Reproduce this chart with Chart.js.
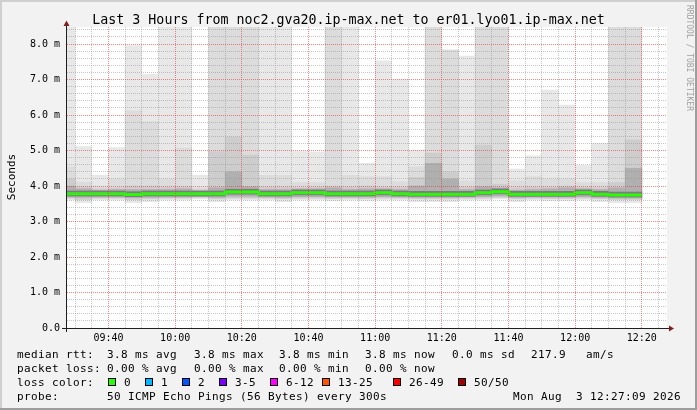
<!DOCTYPE html>
<html>
<head>
<meta charset="utf-8">
<script src="https://cdn.jsdelivr.net/npm/chart.js@4/dist/chart.umd.min.js"></script>
<style>
  html, body { margin: 0; padding: 0; background: #f2f2f2; }
  canvas { display: block; }
</style>
</head>
<body>
<canvas id="smoke" width="697" height="410"></canvas>
<script>
// start of each 5 minute interval (first one is clipped by the window)
const intervals = ['09:25','09:30','09:35','09:40','09:45','09:50','09:55','10:00','10:05','10:10',
  '10:15','10:20','10:25','10:30','10:35','10:40','10:45','10:50','10:55','11:00',
  '11:05','11:10','11:15','11:20','11:25','11:30','11:35','11:40','11:45','11:50',
  '11:55','12:00','12:05','12:10','12:15'];
const intervalEnd = '12:20';

// rtt in ms (8.9 = above the top of the graph)
const medians   = [3.78,3.78,3.78,3.78,3.76,3.78,3.78,3.78,3.78,3.78,3.83,3.83,3.78,3.78,3.81,3.81,3.78,3.78,3.78,3.81,3.78,3.77,3.77,3.77,3.77,3.81,3.84,3.77,3.77,3.77,3.77,3.81,3.77,3.75,3.75];
const smokeMax  = [8.9,5.11,4.31,5.08,7.96,7.15,8.9,8.9,4.31,8.9,8.9,8.9,8.9,8.9,4.98,4.96,8.9,8.9,4.64,7.53,7.00,5.01,8.9,7.83,7.66,8.9,8.9,4.48,4.85,6.70,6.28,4.58,5.20,8.9,8.9];
const smokeUpper= [4.54,4.11,4.00,4.20,6.12,5.81,4.20,5.07,3.95,8.9,8.9,8.9,4.30,4.30,4.10,4.10,8.9,4.30,4.26,4.26,4.12,4.54,8.9,7.83,4.15,8.9,8.9,4.15,4.26,4.20,4.20,4.10,4.10,8.9,8.9];
const smokeInner= [4.20,3.98,3.92,3.95,4.00,4.00,3.97,3.98,3.90,4.97,5.38,4.87,3.97,3.97,3.95,3.97,4.00,3.97,4.00,3.97,3.96,4.24,4.93,4.40,3.97,5.15,4.05,3.95,3.97,3.97,4.00,3.97,3.95,4.10,5.30];
const coreHigh  = [4.00,3.92,3.88,3.90,3.90,3.90,3.90,3.92,3.86,3.95,4.40,3.98,3.90,3.90,3.92,3.92,3.95,3.90,3.92,3.92,3.90,4.00,4.64,4.20,3.90,3.98,3.95,3.88,3.90,3.92,3.95,3.92,3.90,3.95,4.50];
const darkHigh  = [3.86,3.86,3.86,3.86,3.84,3.86,3.86,3.86,3.86,3.86,3.91,3.91,3.86,3.86,3.89,3.89,3.86,3.86,3.86,3.89,3.86,3.85,3.85,3.85,3.85,3.89,3.92,3.85,3.85,3.85,3.85,3.89,3.85,3.83,3.83];
const darkLow   = [3.72,3.72,3.72,3.72,3.70,3.72,3.72,3.72,3.72,3.72,3.77,3.77,3.72,3.72,3.75,3.75,3.72,3.72,3.72,3.75,3.72,3.71,3.71,3.71,3.71,3.75,3.78,3.71,3.71,3.71,3.71,3.75,3.71,3.69,3.69];
const coreLow   = [3.69,3.68,3.69,3.69,3.67,3.68,3.69,3.69,3.70,3.68,3.71,3.71,3.69,3.68,3.70,3.70,3.69,3.69,3.69,3.70,3.69,3.68,3.68,3.68,3.69,3.70,3.72,3.68,3.69,3.69,3.69,3.70,3.68,3.66,3.66];
const smokeLow  = [3.66,3.62,3.66,3.66,3.62,3.64,3.66,3.66,3.68,3.64,3.66,3.66,3.66,3.64,3.66,3.66,3.65,3.66,3.65,3.66,3.66,3.64,3.64,3.64,3.66,3.66,3.68,3.64,3.66,3.65,3.65,3.66,3.64,3.62,3.62];
const smokeMin  = [3.61,3.53,3.61,3.61,3.53,3.56,3.61,3.61,3.64,3.56,3.61,3.61,3.61,3.56,3.61,3.61,3.59,3.61,3.59,3.61,3.61,3.56,3.56,3.56,3.61,3.61,3.64,3.56,3.61,3.59,3.59,3.61,3.56,3.53,3.53];

const xTickLabels = ['09:40','10:00','10:20','10:40','11:00','11:20','11:40','12:00','12:20'];
const yTickLabels = ['0.0','1.0 m','2.0 m','3.0 m','4.0 m','5.0 m','6.0 m','7.0 m','8.0 m'];

const lossLabels = ['0','1','2','3-5','6-12','13-25','26-49','50/50'];
const lossColors = ['#26ff00','#00b8ff','#0059ff','#7e00ff','#ff00ff','#ff5500','#ff0000','#a10000'];

const windowStart = 567.55;   // 09:27:33
const windowEnd = 747.55;     // 12:27:33

const toMin = s => { const p = s.split(':').map(Number); return p[0] * 60 + p[1]; };
const hhmm = v => String(Math.floor(v / 60)).padStart(2, '0') + ':' + String(v % 60).padStart(2, '0');

function band(lo, hi, color) {
  return {
    type: 'bar',
    data: intervals.map((t, i) => ({ x: toMin(t) + 2.5, y: [lo[i], hi[i]] })),
    backgroundColor: color,
    borderWidth: 0,
    grouped: false,
    barPercentage: 1,
    categoryPercentage: 1
  };
}

const medianLine = intervals.map((t, i) => ({ x: toMin(t), y: medians[i] }));
medianLine.push({ x: toMin(intervalEnd), y: medians[medians.length - 1] });

// rrdtool style grid colours
const MINOR = 'rgba(143,143,143,0.5)';
const MAJOR = 'rgba(230,60,60,0.6)';
const mono = '"DejaVu Sans Mono", monospace';

// rrdtool paints its grid over the graph, so it is drawn after the datasets
const rrdGrid = {
  id: 'rrdGrid',
  afterDatasetsDraw(chart) {
    const ctx = chart.ctx, a = chart.chartArea, sx = chart.scales.x, sy = chart.scales.y;
    const hLine = v => { const py = Math.floor(sy.getPixelForValue(v)) + 0.5; ctx.beginPath(); ctx.moveTo(a.left, py); ctx.lineTo(a.right, py); ctx.stroke(); };
    const vLine = v => { const px = Math.floor(sx.getPixelForValue(v)) + 0.5; ctx.beginPath(); ctx.moveTo(px, a.top); ctx.lineTo(px, a.bottom); ctx.stroke(); };
    ctx.save();
    ctx.lineWidth = 1;
    ctx.setLineDash([1, 1]);
    // minor lines first
    ctx.strokeStyle = MINOR;
    for (let i = 1; i <= 42; i++) if (i % 5 !== 0) hLine(i / 5);
    for (let v = 570; v <= 745; v += 5) if (!xTickLabels.includes(hhmm(v))) vLine(v);
    // then the major ones on top
    ctx.strokeStyle = MAJOR;
    for (let i = 1; i <= 8; i++) hLine(i);
    xTickLabels.forEach(s => vLine(toMin(s)));
    ctx.restore();
  }
};

const rrdLook = {
  id: 'rrdLook',
  beforeDraw(chart) {
    const ctx = chart.ctx, a = chart.chartArea;
    ctx.save();
    ctx.fillStyle = '#f2f2f2';
    ctx.fillRect(0, 0, 697, 410);
    ctx.fillStyle = '#cfcfcf';
    ctx.fillRect(0, 0, 697, 2);
    ctx.fillRect(0, 0, 2, 410);
    ctx.fillStyle = '#9e9e9e';
    ctx.fillRect(0, 408, 697, 2);
    ctx.fillRect(695, 0, 2, 410);
    ctx.fillStyle = '#ffffff';
    ctx.fillRect(a.left, a.top, a.right - a.left, a.bottom - a.top);
    ctx.restore();
  },
  afterDraw(chart) {
    const ctx = chart.ctx, a = chart.chartArea;
    ctx.save();
    // axes
    ctx.strokeStyle = '#1f1f1f';
    ctx.lineWidth = 1;
    ctx.beginPath();
    ctx.moveTo(62, a.bottom + 0.5); ctx.lineTo(670, a.bottom + 0.5);
    ctx.moveTo(a.left - 0.5, a.bottom + 4); ctx.lineTo(a.left - 0.5, 23);
    ctx.stroke();
    ctx.fillStyle = '#801f1f';
    ctx.beginPath();
    ctx.moveTo(669, a.bottom - 2.5); ctx.lineTo(674, a.bottom + 0.5); ctx.lineTo(669, a.bottom + 3.5);
    ctx.closePath(); ctx.fill();
    ctx.beginPath();
    ctx.moveTo(a.left - 3.5, 26); ctx.lineTo(a.left - 0.5, 20.5); ctx.lineTo(a.left + 2.5, 26);
    ctx.closePath(); ctx.fill();

    // title
    ctx.fillStyle = '#000';
    ctx.textBaseline = 'alphabetic';
    ctx.textAlign = 'center';
    ctx.font = '13.3px ' + mono;
    ctx.fillText('Last 3 Hours from noc2.gva20.ip-max.net to er01.lyo01.ip-max.net', 348.5, 24);

    // y axis title
    ctx.save();
    ctx.translate(15, 177);
    ctx.rotate(-Math.PI / 2);
    ctx.font = '11px ' + mono;
    ctx.fillText('Seconds', 0, 0);
    ctx.restore();

    // watermark
    ctx.save();
    ctx.translate(687, 5);
    ctx.rotate(Math.PI / 2);
    ctx.textAlign = 'left';
    ctx.fillStyle = '#a0a0a0';
    ctx.font = '8px ' + mono;
    ctx.fillText('RRDTOOL / TOBI OETIKER', 0, 0);
    ctx.restore();

    // legend
    ctx.textAlign = 'left';
    ctx.font = '11px ' + mono;
    if ('letterSpacing' in ctx) ctx.letterSpacing = '0.38px';
    const put = (s, x, y) => ctx.fillText(s, x, y);
    put('median rtt:', 17, 358);
    put('3.8 ms avg', 107, 358);
    put('3.8 ms max', 194, 358);
    put('3.8 ms min', 279, 358);
    put('3.8 ms now', 365, 358);
    put('0.0 ms sd', 452, 358);
    put('217.9', 531, 358);
    put('am/s', 586, 358);
    put('packet loss:', 17, 372);
    put('0.00 % avg', 107, 372);
    put('0.00 % max', 194, 372);
    put('0.00 % min', 279, 372);
    put('0.00 % now', 365, 372);
    put('loss color:', 17, 386);
    const boxX = [108, 145, 182, 219, 270, 322, 393, 458];
    lossLabels.forEach((lab, i) => {
      ctx.fillStyle = lossColors[i];
      ctx.fillRect(boxX[i], 378, 8, 8);
      ctx.strokeStyle = '#000';
      ctx.strokeRect(boxX[i] + 0.5, 378.5, 7, 7);
      ctx.fillStyle = '#000';
      put(lab, boxX[i] + 16, 386);
    });
    put('probe:', 17, 400);
    put('50 ICMP Echo Pings (56 Bytes) every 300s', 107, 400);
    put('Mon Aug  3 12:27:09 2026', 513, 400);
    ctx.restore();
  }
};

new Chart(document.getElementById('smoke'), {
  type: 'bar',
  data: {
    datasets: [
      {
        type: 'line',
        data: medianLine,
        borderColor: lossColors[0],
        borderWidth: 3,
        stepped: 'before',
        pointRadius: 0,
        fill: false,
        borderCapStyle: 'butt'
      },
      band(darkLow, darkHigh, '#7c7c7c'),
      band(coreLow, coreHigh, '#b0b0b0'),
      band(smokeLow, smokeInner, '#cdcdcd'),
      band(smokeLow, smokeUpper, '#dcdcdc'),
      band(smokeMin, smokeMax, '#e8e8e8')
    ]
  },
  options: {
    responsive: false,
    animation: false,
    devicePixelRatio: 1,
    layout: { padding: { left: 0, right: 30, top: 27, bottom: 0 } },
    plugins: { legend: { display: false }, tooltip: { enabled: false }, title: { display: false } },
    scales: {
      x: {
        type: 'linear',
        min: windowStart,
        max: windowEnd,
        offset: false,
        afterBuildTicks: s => {
          const t = [];
          for (let v = 570; v <= 745; v += 5) t.push({ value: v });
          s.ticks = t;
        },
        afterFit: s => { s.height = 82; },
        grid: { display: false, drawTicks: false },
        border: { display: false },
        ticks: {
          autoSkip: false,
          maxRotation: 0,
          padding: 4,
          color: '#000',
          font: { family: 'DejaVu Sans Mono', size: 10 },
          callback: v => xTickLabels.includes(hhmm(v)) ? hhmm(v) : ''
        }
      },
      y: {
        type: 'linear',
        min: 0,
        max: 8.48,
        afterBuildTicks: s => {
          const t = [];
          for (let i = 0; i <= 8; i++) t.push({ value: i });
          s.ticks = t;
        },
        afterFit: s => { s.width = 67; },
        grid: { display: false, drawTicks: false },
        border: { display: false },
        ticks: {
          autoSkip: false,
          padding: 7,
          color: '#000',
          font: { family: 'DejaVu Sans Mono', size: 10 },
          callback: v => yTickLabels[Math.round(v)]
        }
      }
    }
  },
  plugins: [rrdGrid, rrdLook]
});
</script>
</body>
</html>
